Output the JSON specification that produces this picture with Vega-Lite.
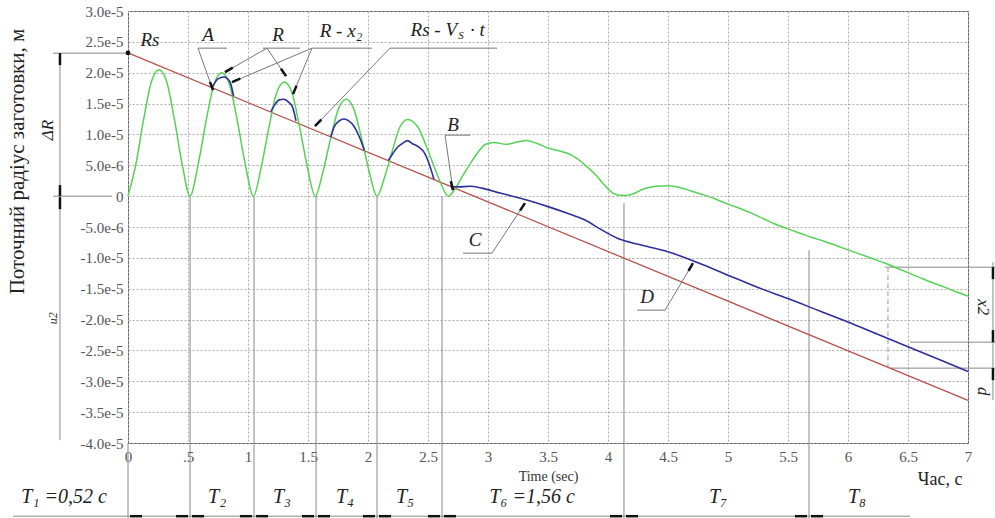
{
  "$schema": "https://vega.github.io/schema/vega-lite/v6.json",
  "width": 840,
  "height": 432,
  "autosize": {"type": "none"},
  "padding": {"left": 128, "top": 11, "right": 27, "bottom": 75},
  "background": "white",
  "config": {
    "view": {"stroke": "#555", "strokeWidth": 1},
    "font": "Liberation Serif"
  },
  "datasets": {
    "red": [{"t": 0, "v": 2.32e-5}, {"t": 7, "v": -3.31e-5}],
    "dots": [{"t": 0, "v": 2.32e-5}],
    "green": [
      {"t": 0, "v": 0}, {"t": 0.065, "v": 0.51e-5}, {"t": 0.129, "v": 1.23e-5}, {"t": 0.194, "v": 1.85e-5}, {"t": 0.258, "v": 2.05e-5},
      {"t": 0.323, "v": 1.85e-5}, {"t": 0.388, "v": 1.23e-5}, {"t": 0.452, "v": 0.51e-5}, {"t": 0.517, "v": 0},
      {"t": 0.583, "v": 0.5e-5}, {"t": 0.649, "v": 1.2e-5}, {"t": 0.715, "v": 1.8e-5}, {"t": 0.781, "v": 2.0e-5},
      {"t": 0.847, "v": 1.8e-5}, {"t": 0.913, "v": 1.2e-5}, {"t": 0.979, "v": 0.5e-5}, {"t": 1.045, "v": 0},
      {"t": 1.109, "v": 0.46e-5}, {"t": 1.174, "v": 1.11e-5}, {"t": 1.238, "v": 1.67e-5}, {"t": 1.303, "v": 1.85e-5},
      {"t": 1.367, "v": 1.67e-5}, {"t": 1.431, "v": 1.11e-5}, {"t": 1.496, "v": 0.46e-5}, {"t": 1.56, "v": 0},
      {"t": 1.624, "v": 0.39e-5}, {"t": 1.689, "v": 0.94e-5}, {"t": 1.753, "v": 1.41e-5}, {"t": 1.818, "v": 1.57e-5},
      {"t": 1.882, "v": 1.41e-5}, {"t": 1.946, "v": 0.94e-5}, {"t": 2.011, "v": 0.39e-5}, {"t": 2.075, "v": 0},
      {"t": 2.139, "v": 0.31e-5}, {"t": 2.203, "v": 0.74e-5}, {"t": 2.266, "v": 1.12e-5}, {"t": 2.33, "v": 1.24e-5},
      {"t": 2.415, "v": 1.12e-5}, {"t": 2.5, "v": 0.74e-5}, {"t": 2.585, "v": 0.31e-5}, {"t": 2.67, "v": 0},
      {"t": 2.72, "v": 0.1e-5}, {"t": 2.78, "v": 0.3e-5}, {"t": 2.85, "v": 0.52e-5}, {"t": 2.92, "v": 0.72e-5},
      {"t": 2.98, "v": 0.84e-5}, {"t": 3.05, "v": 0.87e-5}, {"t": 3.15, "v": 0.84e-5}, {"t": 3.25, "v": 0.88e-5},
      {"t": 3.32, "v": 0.9e-5}, {"t": 3.4, "v": 0.86e-5}, {"t": 3.5, "v": 0.78e-5}, {"t": 3.6, "v": 0.73e-5},
      {"t": 3.7, "v": 0.66e-5}, {"t": 3.8, "v": 0.52e-5}, {"t": 3.9, "v": 0.34e-5}, {"t": 3.97, "v": 0.18e-5},
      {"t": 4.04, "v": 0.05e-5}, {"t": 4.12, "v": 0.01e-5}, {"t": 4.2, "v": 0.03e-5}, {"t": 4.3, "v": 0.12e-5},
      {"t": 4.4, "v": 0.16e-5}, {"t": 4.5, "v": 0.17e-5}, {"t": 4.6, "v": 0.14e-5}, {"t": 4.7, "v": 0.08e-5},
      {"t": 4.8, "v": 0.02e-5}, {"t": 4.9, "v": -0.05e-5}, {"t": 5.0, "v": -0.13e-5}, {"t": 5.1, "v": -0.2e-5},
      {"t": 5.2, "v": -0.28e-5}, {"t": 5.3, "v": -0.37e-5}, {"t": 5.4, "v": -0.46e-5}, {"t": 5.5, "v": -0.53e-5},
      {"t": 5.6, "v": -0.6e-5}, {"t": 5.7, "v": -0.67e-5}, {"t": 5.8, "v": -0.73e-5}, {"t": 5.9, "v": -0.8e-5},
      {"t": 6.0, "v": -0.87e-5}, {"t": 6.1, "v": -0.94e-5}, {"t": 6.2, "v": -1.01e-5}, {"t": 6.3, "v": -1.08e-5},
      {"t": 6.4, "v": -1.16e-5}, {"t": 6.5, "v": -1.24e-5}, {"t": 6.6, "v": -1.32e-5}, {"t": 6.7, "v": -1.4e-5},
      {"t": 6.8, "v": -1.47e-5}, {"t": 6.9, "v": -1.55e-5}, {"t": 7.0, "v": -1.62e-5}
    ],
    "blue": [
      {"seg": "a", "t": 0.70, "v": 1.76e-5}, {"seg": "a", "t": 0.75, "v": 1.9e-5}, {"seg": "a", "t": 0.8, "v": 1.93e-5}, {"seg": "a", "t": 0.85, "v": 1.85e-5}, {"seg": "a", "t": 0.88, "v": 1.62e-5},
      {"seg": "b", "t": 1.19, "v": 1.37e-5}, {"seg": "b", "t": 1.22, "v": 1.47e-5}, {"seg": "b", "t": 1.26, "v": 1.56e-5}, {"seg": "b", "t": 1.3, "v": 1.57e-5}, {"seg": "b", "t": 1.34, "v": 1.52e-5}, {"seg": "b", "t": 1.37, "v": 1.45e-5}, {"seg": "b", "t": 1.4, "v": 1.22e-5},
      {"seg": "c", "t": 1.69, "v": 0.96e-5}, {"seg": "c", "t": 1.72, "v": 1.13e-5}, {"seg": "c", "t": 1.76, "v": 1.22e-5}, {"seg": "c", "t": 1.8, "v": 1.25e-5}, {"seg": "c", "t": 1.84, "v": 1.22e-5}, {"seg": "c", "t": 1.88, "v": 1.14e-5}, {"seg": "c", "t": 1.93, "v": 0.95e-5}, {"seg": "c", "t": 1.97, "v": 0.74e-5},
      {"seg": "d", "t": 2.17, "v": 0.58e-5}, {"seg": "d", "t": 2.21, "v": 0.7e-5}, {"seg": "d", "t": 2.25, "v": 0.8e-5}, {"seg": "d", "t": 2.29, "v": 0.86e-5}, {"seg": "d", "t": 2.33, "v": 0.9e-5}, {"seg": "d", "t": 2.37, "v": 0.85e-5}, {"seg": "d", "t": 2.42, "v": 0.8e-5}, {"seg": "d", "t": 2.47, "v": 0.7e-5}, {"seg": "d", "t": 2.51, "v": 0.52e-5}, {"seg": "d", "t": 2.55, "v": 0.27e-5},
      {"seg": "e", "t": 2.69, "v": 0.16e-5}, {"seg": "e", "t": 2.75, "v": 0.15e-5}, {"seg": "e", "t": 2.85, "v": 0.16e-5}, {"seg": "e", "t": 2.95, "v": 0.13e-5}, {"seg": "e", "t": 3.1, "v": 0.05e-5}, {"seg": "e", "t": 3.3, "v": -0.05e-5}, {"seg": "e", "t": 3.5, "v": -0.17e-5}, {"seg": "e", "t": 3.65, "v": -0.27e-5}, {"seg": "e", "t": 3.8, "v": -0.38e-5}, {"seg": "e", "t": 3.95, "v": -0.55e-5}, {"seg": "e", "t": 4.1, "v": -0.7e-5}, {"seg": "e", "t": 4.25, "v": -0.78e-5}, {"seg": "e", "t": 4.5, "v": -0.9e-5}, {"seg": "e", "t": 4.75, "v": -1.08e-5}, {"seg": "e", "t": 5.0, "v": -1.28e-5}, {"seg": "e", "t": 5.25, "v": -1.48e-5}, {"seg": "e", "t": 5.5, "v": -1.66e-5}, {"seg": "e", "t": 5.75, "v": -1.85e-5}, {"seg": "e", "t": 6.0, "v": -2.04e-5}, {"seg": "e", "t": 6.25, "v": -2.24e-5}, {"seg": "e", "t": 6.5, "v": -2.44e-5}, {"seg": "e", "t": 6.75, "v": -2.64e-5}, {"seg": "e", "t": 7.0, "v": -2.84e-5}
    ],
    "leaders": [
      {"t": 0.583, "v": 2.398e-5, "t2": 0.825, "v2": 2.398e-5},
      {"t": 0.583, "v": 2.398e-5, "t2": 0.708, "v2": 1.718e-5},
      {"t": 1.125, "v": 2.398e-5, "t2": 1.433, "v2": 2.398e-5},
      {"t": 1.158, "v": 2.398e-5, "t2": 0.808, "v2": 2.009e-5},
      {"t": 1.158, "v": 2.398e-5, "t2": 1.317, "v2": 1.945e-5},
      {"t": 1.533, "v": 2.398e-5, "t2": 2.033, "v2": 2.398e-5},
      {"t": 1.533, "v": 2.398e-5, "t2": 0.867, "v2": 1.847e-5},
      {"t": 1.533, "v": 2.398e-5, "t2": 1.375, "v2": 1.653e-5},
      {"t": 2.183, "v": 2.398e-5, "t2": 3.075, "v2": 2.398e-5},
      {"t": 2.183, "v": 2.398e-5, "t2": 1.558, "v2": 1.134e-5},
      {"t": 2.642, "v": 0.988e-5, "t2": 2.85, "v2": 0.988e-5},
      {"t": 2.642, "v": 0.988e-5, "t2": 2.708, "v2": 0.097e-5},
      {"t": 2.792, "v": -0.924e-5, "t2": 3.033, "v2": -0.924e-5},
      {"t": 3.033, "v": -0.924e-5, "t2": 3.308, "v2": -0.113e-5},
      {"t": 4.242, "v": -1.847e-5, "t2": 4.475, "v2": -1.847e-5},
      {"t": 4.475, "v": -1.847e-5, "t2": 4.708, "v2": -1.086e-5}
    ],
    "dims": [
      {"t": -0.625, "v": 2.317e-5, "t2": 0, "v2": 2.317e-5},
      {"t": -0.625, "v": 0, "t2": -0.133, "v2": 0},
      {"t": -0.567, "v": 2.317e-5, "t2": -0.567, "v2": -3.954e-5},
      {"t": 0, "v": -4e-5, "t2": 0, "v2": -5.22e-5},
      {"t": 0.517, "v": 0, "t2": 0.517, "v2": -5.22e-5},
      {"t": 1.05, "v": 0, "t2": 1.05, "v2": -5.22e-5},
      {"t": 1.567, "v": 0, "t2": 1.567, "v2": -5.22e-5},
      {"t": 2.075, "v": 0, "t2": 2.075, "v2": -5.22e-5},
      {"t": 2.617, "v": 0, "t2": 2.617, "v2": -5.22e-5},
      {"t": 4.133, "v": -0.113e-5, "t2": 4.133, "v2": -5.22e-5},
      {"t": 5.675, "v": -0.875e-5, "t2": 5.675, "v2": -5.22e-5},
      {"t": -0.958, "v": -5.186e-5, "t2": 6.517, "v2": -5.186e-5},
      {"t": 6.308, "v": -1.151e-5, "t2": 7.225, "v2": -1.151e-5},
      {"t": 6.517, "v": -2.366e-5, "t2": 7.225, "v2": -2.366e-5},
      {"t": 6.35, "v": -2.787e-5, "t2": 7.225, "v2": -2.787e-5},
      {"t": 7.208, "v": -1.07e-5, "t2": 7.208, "v2": -3.306e-5}
    ],
    "dashed": [
      {"t": 6.333, "v": -1.151e-5, "t2": 6.333, "v2": -2.787e-5}
    ],
    "arrows": [
      {"t": 0.683, "v": 1.852e-5, "t2": 0.708, "v2": 1.718e-5},
      {"t": 0.873, "v": 2.082e-5, "t2": 0.808, "v2": 2.009e-5},
      {"t": 1.275, "v": 2.065e-5, "t2": 1.317, "v2": 1.945e-5},
      {"t": 0.935, "v": 1.904e-5, "t2": 0.867, "v2": 1.847e-5},
      {"t": 1.404, "v": 1.788e-5, "t2": 1.375, "v2": 1.653e-5},
      {"t": 1.611, "v": 1.24e-5, "t2": 1.558, "v2": 1.134e-5},
      {"t": 2.69, "v": 0.242e-5, "t2": 2.708, "v2": 0.097e-5},
      {"t": 3.267, "v": -0.235e-5, "t2": 3.308, "v2": -0.113e-5},
      {"t": 4.671, "v": -1.211e-5, "t2": 4.708, "v2": -1.086e-5},
      {"t": -0.567, "v": 2.317e-5, "t2": -0.567, "v2": 2.123e-5},
      {"t": -0.567, "v": 0.178e-5, "t2": -0.567, "v2": 0},
      {"t": -0.567, "v": -0.016e-5, "t2": -0.567, "v2": -0.211e-5},
      {"t": 7.208, "v": -1.151e-5, "t2": 7.208, "v2": -1.345e-5},
      {"t": 7.208, "v": -2.171e-5, "t2": 7.208, "v2": -2.366e-5},
      {"t": 7.208, "v": -2.787e-5, "t2": 7.208, "v2": -2.982e-5},
      {"t": 0.017, "v": -5.186e-5, "t2": 0.117, "v2": -5.186e-5},
      {"t": 0.4, "v": -5.186e-5, "t2": 0.5, "v2": -5.186e-5},
      {"t": 0.533, "v": -5.186e-5, "t2": 0.633, "v2": -5.186e-5},
      {"t": 0.933, "v": -5.186e-5, "t2": 1.033, "v2": -5.186e-5},
      {"t": 1.067, "v": -5.186e-5, "t2": 1.167, "v2": -5.186e-5},
      {"t": 1.45, "v": -5.186e-5, "t2": 1.55, "v2": -5.186e-5},
      {"t": 1.583, "v": -5.186e-5, "t2": 1.683, "v2": -5.186e-5},
      {"t": 1.958, "v": -5.186e-5, "t2": 2.058, "v2": -5.186e-5},
      {"t": 2.092, "v": -5.186e-5, "t2": 2.192, "v2": -5.186e-5},
      {"t": 2.5, "v": -5.186e-5, "t2": 2.6, "v2": -5.186e-5},
      {"t": 2.633, "v": -5.186e-5, "t2": 2.733, "v2": -5.186e-5},
      {"t": 4.017, "v": -5.186e-5, "t2": 4.117, "v2": -5.186e-5},
      {"t": 4.15, "v": -5.186e-5, "t2": 4.25, "v2": -5.186e-5},
      {"t": 5.558, "v": -5.186e-5, "t2": 5.658, "v2": -5.186e-5},
      {"t": 5.692, "v": -5.186e-5, "t2": 5.792, "v2": -5.186e-5}
    ],
    "callouts": [
      {"t": 0.183, "v": 2.53e-5, "label": "Rs"},
      {"t": 0.667, "v": 2.61e-5, "label": "A"},
      {"t": 1.25, "v": 2.61e-5, "label": "R"},
      {"t": 1.775, "v": 2.67e-5, "label": "R - x₂"},
      {"t": 2.708, "v": 1.15e-5, "label": "B"},
      {"t": 2.892, "v": -0.713e-5, "label": "C"},
      {"t": 4.325, "v": -1.637e-5, "label": "D"}
    ],
    "rvLeft": [{"t": 2.742, "v": 2.69e-5, "label": "Rs - V"}],
    "rvSub": [{"t": 2.775, "v": 2.59e-5, "label": "S"}],
    "rvRight": [{"t": 2.85, "v": 2.69e-5, "label": "· t"}],
    "periods": [
      {"t": -0.533, "v": -4.88e-5, "label": "T₁ =0,52 с"},
      {"t": 0.742, "v": -4.88e-5, "label": "T₂"},
      {"t": 1.283, "v": -4.88e-5, "label": "T₃"},
      {"t": 1.808, "v": -4.88e-5, "label": "T₄"},
      {"t": 2.308, "v": -4.88e-5, "label": "T₅"},
      {"t": 3.367, "v": -4.88e-5, "label": "T₆ =1,56 с"},
      {"t": 4.917, "v": -4.88e-5, "label": "T₇"},
      {"t": 6.075, "v": -4.88e-5, "label": "T₈"}
    ],
    "rotLeft": [
      {"t": -0.667, "v": 1.07e-5, "label": "ΔR"}
    ],
    "rotSmall": [
      {"t": -0.625, "v": -1.977e-5, "label": "u2"}
    ],
    "rotRight": [
      {"t": 7.125, "v": -1.799e-5, "label": "x2"},
      {"t": 7.125, "v": -3.16e-5, "label": "d"}
    ],
    "unit": [{"t": 6.767, "v": -4.6e-5, "label": "Час, с"}]
  },
  "encoding": {
    "x": {
      "field": "t", "type": "quantitative",
      "scale": {"domain": [0, 7], "nice": false, "zero": false},
      "axis": {
        "title": "Time (sec)",
        "values": [0, 0.5, 1, 1.5, 2, 2.5, 3, 3.5, 4, 4.5, 5, 5.5, 6, 6.5, 7],
        "labelExpr": "datum.value == 0.5 ? '.5' : format(datum.value, '~g')",
        "grid": true, "gridDash": [2, 2], "gridColor": "#aaa", "gridWidth": 1,
        "ticks": false, "domain": false, "labelFlush": false, "labelOverlap": false,
        "labelFont": "Liberation Serif", "labelFontSize": 15, "labelColor": "#555", "labelPadding": 6,
        "titleFont": "Liberation Serif", "titleFontSize": 14, "titleFontWeight": "normal", "titleColor": "#333", "titlePadding": 5
      }
    },
    "y": {
      "field": "v", "type": "quantitative",
      "scale": {"domain": [-4e-5, 3e-5], "nice": false, "zero": false},
      "axis": {
        "title": "Поточний радіус заготовки, м",
        "values": [-4e-5, -3.5e-5, -3e-5, -2.5e-5, -2e-5, -1.5e-5, -1e-5, -5e-6, 0, 5e-6, 1e-5, 1.5e-5, 2e-5, 2.5e-5, 3e-5],
        "labelExpr": "datum.value == 0 ? '0' : replace(format(datum.value, '.1e'), '\u2212', '-')",
        "grid": true, "gridDash": [2, 2], "gridColor": "#aaa", "gridWidth": 1,
        "ticks": false, "domain": false, "labelOverlap": false,
        "labelFont": "Liberation Serif", "labelFontSize": 15, "labelColor": "#555", "labelPadding": 5,
        "titleFont": "Liberation Serif", "titleFontSize": 21, "titleFontWeight": "normal", "titleColor": "#222",
        "titleX": -111, "titleY": 150, "titleAngle": -90, "titleAlign": "center", "titleBaseline": "middle"
      }
    }
  },
  "layer": [
    {"data": {"name": "dims"}, "mark": {"type": "rule", "color": "#888", "strokeWidth": 1}, "encoding": {"x2": {"field": "t2"}, "y2": {"field": "v2"}}},
    {"data": {"name": "dashed"}, "mark": {"type": "rule", "color": "#bbb", "strokeWidth": 1.5, "strokeDash": [5, 3]}, "encoding": {"x2": {"field": "t2"}, "y2": {"field": "v2"}}},
    {"data": {"name": "red"}, "mark": {"type": "line", "color": "#b5514c", "strokeWidth": 1.3}},
    {"data": {"name": "green"}, "mark": {"type": "line", "color": "#55d255", "strokeWidth": 1.5, "interpolate": "monotone"}},
    {"data": {"name": "blue"}, "mark": {"type": "line", "color": "#2f2f9c", "strokeWidth": 1.6, "interpolate": "monotone"}, "encoding": {"detail": {"field": "seg"}}},
    {"data": {"name": "leaders"}, "mark": {"type": "rule", "color": "#777", "strokeWidth": 1}, "encoding": {"x2": {"field": "t2"}, "y2": {"field": "v2"}}},
    {"data": {"name": "arrows"}, "mark": {"type": "rule", "color": "#111", "strokeWidth": 2.5}, "encoding": {"x2": {"field": "t2"}, "y2": {"field": "v2"}}},
    {"data": {"name": "dots"}, "mark": {"type": "point", "filled": true, "color": "#111", "size": 22, "opacity": 1}},
    {"data": {"name": "callouts"}, "mark": {"type": "text", "font": "Liberation Serif", "fontStyle": "italic", "fontSize": 19, "color": "#222", "align": "center", "baseline": "middle"}, "encoding": {"text": {"field": "label"}}},
    {"data": {"name": "rvLeft"}, "mark": {"type": "text", "font": "Liberation Serif", "fontStyle": "italic", "fontSize": 19, "color": "#222", "align": "right", "baseline": "middle"}, "encoding": {"text": {"field": "label"}}},
    {"data": {"name": "rvSub"}, "mark": {"type": "text", "font": "Liberation Serif", "fontStyle": "italic", "fontSize": 11, "color": "#222", "align": "center", "baseline": "middle"}, "encoding": {"text": {"field": "label"}}},
    {"data": {"name": "rvRight"}, "mark": {"type": "text", "font": "Liberation Serif", "fontStyle": "italic", "fontSize": 19, "color": "#222", "align": "left", "baseline": "middle"}, "encoding": {"text": {"field": "label"}}},
    {"data": {"name": "periods"}, "mark": {"type": "text", "font": "Liberation Serif", "fontStyle": "italic", "fontSize": 20, "color": "#222", "align": "center", "baseline": "middle"}, "encoding": {"text": {"field": "label"}}},
    {"data": {"name": "rotLeft"}, "mark": {"type": "text", "font": "Liberation Serif", "fontStyle": "italic", "fontSize": 17, "color": "#222", "align": "center", "baseline": "middle", "angle": 270}, "encoding": {"text": {"field": "label"}}},
    {"data": {"name": "rotSmall"}, "mark": {"type": "text", "font": "Liberation Serif", "fontStyle": "italic", "fontSize": 12, "color": "#333", "align": "center", "baseline": "middle", "angle": 270}, "encoding": {"text": {"field": "label"}}},
    {"data": {"name": "rotRight"}, "mark": {"type": "text", "font": "Liberation Serif", "fontStyle": "italic", "fontSize": 17, "color": "#222", "align": "center", "baseline": "middle", "angle": 90}, "encoding": {"text": {"field": "label"}}},
    {"data": {"name": "unit"}, "mark": {"type": "text", "font": "Liberation Serif", "fontSize": 18, "color": "#222", "align": "center", "baseline": "middle"}, "encoding": {"text": {"field": "label"}}}
  ]
}
